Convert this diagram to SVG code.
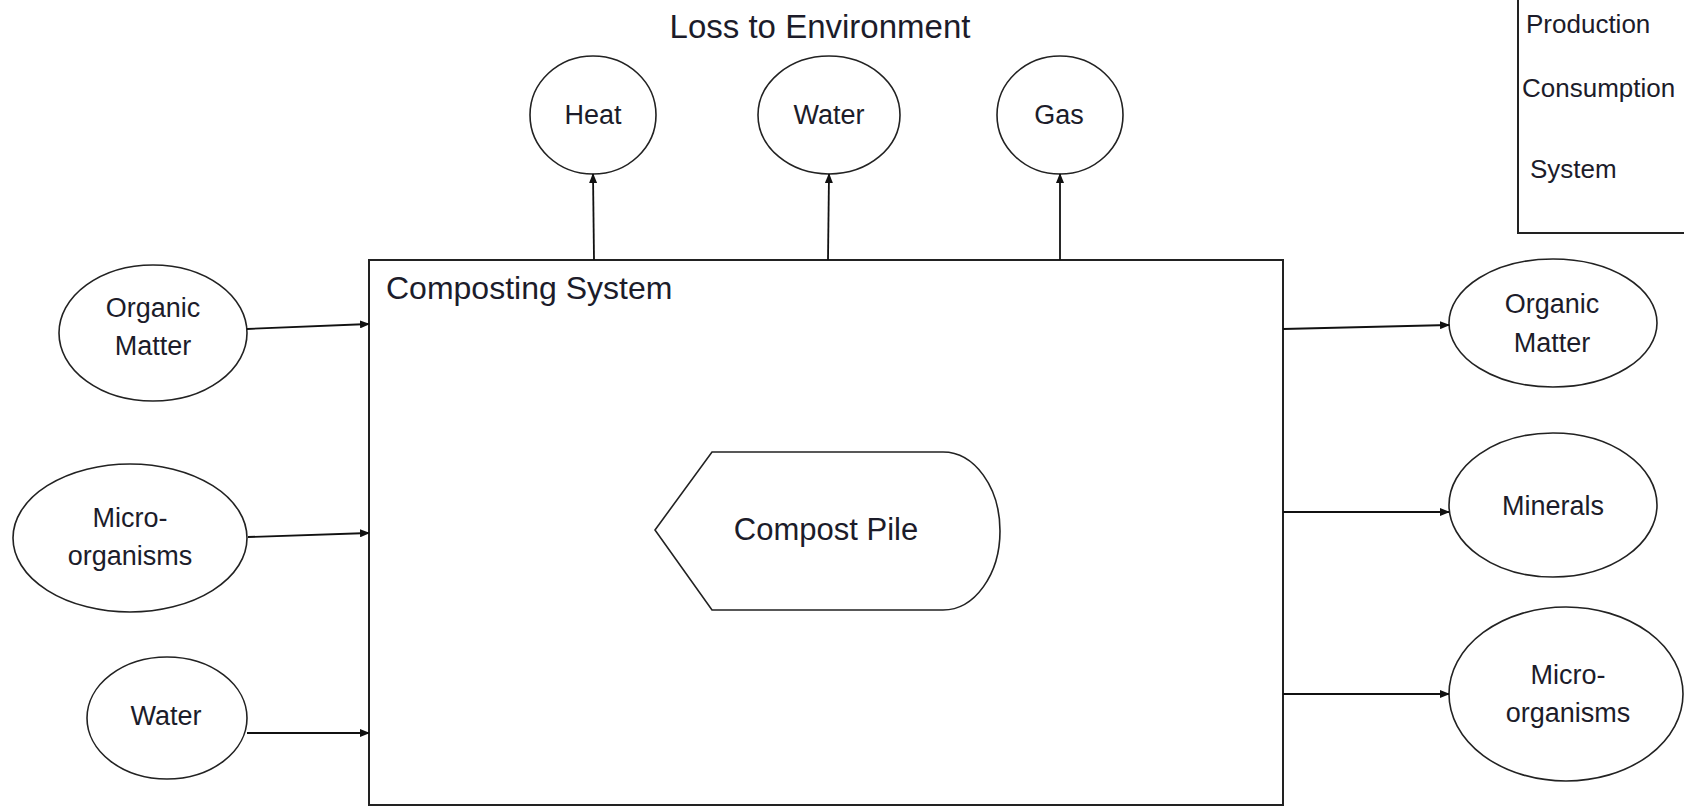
<svg xmlns="http://www.w3.org/2000/svg" width="1684" height="807" viewBox="0 0 1684 807">
<style>
.n{fill:#fff;stroke:#222;stroke-width:1.6}
.t{font-family:"Liberation Sans",Arial,sans-serif;font-size:27px;fill:#1c1c2a;text-anchor:middle}
.l{font-family:"Liberation Sans",Arial,sans-serif;font-size:26px;fill:#1c1c2a}
.c{stroke:#111;stroke-width:1.8;fill:none;marker-end:url(#ah)}
</style>
<defs>
<marker id="ah" markerWidth="10" markerHeight="8" refX="9" refY="4" orient="auto" markerUnits="userSpaceOnUse">
<path d="M0,0 L10,4 L0,8 Z" fill="#111"/>
</marker>
</defs>
<rect width="1684" height="807" fill="#fff"/>

<g id="legend">
<rect x="1518" y="-5" width="180" height="238" fill="none" stroke="#222" stroke-width="2"/>
<text class="l" x="1526" y="33">Production</text>
<text class="l" x="1522" y="97">Consumption</text>
<text class="l" x="1530" y="178">System</text>
</g>

<g id="loss-title">
<text class="t" x="820" y="38" style="font-size:33px">Loss to Environment</text>
</g>

<g id="composting-system">
<rect x="369" y="260" width="914" height="545" fill="#fff" stroke="#222" stroke-width="2"/>
<text class="l" x="386" y="299" style="font-size:32px">Composting System</text>
</g>

<g id="compost-pile">
<path class="n" d="M655,530 L712,452 L943,452 A57,79 0 0 1 943,610 L712,610 Z"/>
<text class="t" x="826" y="540" style="font-size:31px">Compost Pile</text>
</g>

<g id="heat">
<ellipse class="n" cx="593" cy="115" rx="63" ry="59"/>
<text class="t" x="593" y="124">Heat</text>
</g>
<g id="water-out">
<ellipse class="n" cx="829" cy="115" rx="71" ry="59"/>
<text class="t" x="829" y="124">Water</text>
</g>
<g id="gas">
<ellipse class="n" cx="1060" cy="115" rx="63" ry="59"/>
<text class="t" x="1059" y="124">Gas</text>
</g>

<g id="organic-in">
<ellipse class="n" cx="153" cy="333" rx="94" ry="68"/>
<text class="t" x="153" y="317">Organic</text>
<text class="t" x="153" y="355">Matter</text>
</g>
<g id="micro-in">
<ellipse class="n" cx="130" cy="538" rx="117" ry="74"/>
<text class="t" x="130" y="527">Micro-</text>
<text class="t" x="130" y="565">organisms</text>
</g>
<g id="water-in">
<ellipse class="n" cx="167" cy="718" rx="80" ry="61"/>
<text class="t" x="166" y="725">Water</text>
</g>

<g id="organic-out">
<ellipse class="n" cx="1553" cy="323" rx="104" ry="64"/>
<text class="t" x="1552" y="313">Organic</text>
<text class="t" x="1552" y="352">Matter</text>
</g>
<g id="minerals">
<ellipse class="n" cx="1553" cy="505" rx="104" ry="72"/>
<text class="t" x="1553" y="515">Minerals</text>
</g>
<g id="micro-out">
<ellipse class="n" cx="1566" cy="694" rx="117" ry="87"/>
<text class="t" x="1568" y="684">Micro-</text>
<text class="t" x="1568" y="722">organisms</text>
</g>

<g id="connectors">
<line class="c" x1="247" y1="329" x2="369" y2="324"/>
<line class="c" x1="248" y1="537" x2="369" y2="533"/>
<line class="c" x1="247" y1="733" x2="369" y2="733"/>
<line class="c" x1="594" y1="260" x2="593" y2="174"/>
<line class="c" x1="828" y1="260" x2="829" y2="174"/>
<line class="c" x1="1060" y1="260" x2="1060" y2="174"/>
<line class="c" x1="1283" y1="329" x2="1449" y2="325"/>
<line class="c" x1="1283" y1="512" x2="1449" y2="512"/>
<line class="c" x1="1283" y1="694" x2="1449" y2="694"/>
</g>
</svg>
